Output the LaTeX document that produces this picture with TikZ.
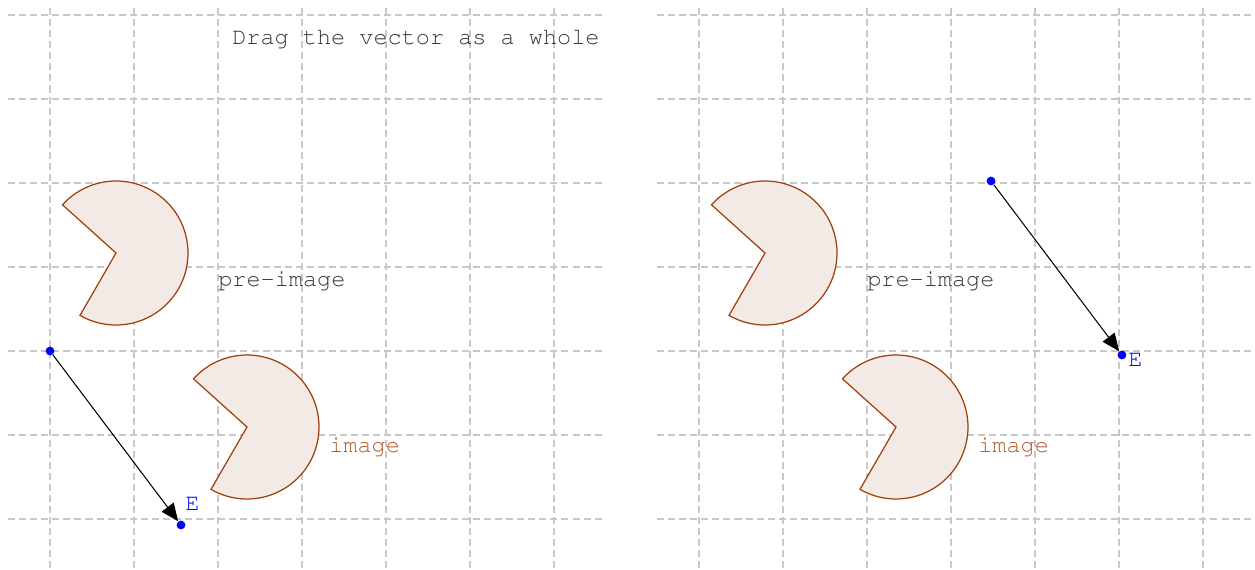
\documentclass[tikz,border=0pt]{standalone}
\usepackage[T1]{fontenc}
\usepackage{courier}
\usepackage{tikz}
\usetikzlibrary{arrows.meta, positioning}

\definecolor{PacLine}{RGB}{160,62,12}
\definecolor{PacFill}{RGB}{243,234,229}
\definecolor{PacText}{RGB}{178,84,42}
\definecolor{GridGray}{RGB}{200,200,200}
\definecolor{TextGray}{RGB}{51,51,51}
\definecolor{PtBlue}{RGB}{0,0,255}

\tikzset{
    gridline/.style={GridGray, line width=0.6pt, dash pattern=on 4pt off 2.3pt},
    pacman/.style={draw=PacLine, fill=PacFill, line width=0.7pt},
    vecpoint/.style={circle, fill=PtBlue, inner sep=0pt, minimum size=5pt},
    vecline/.style={black, line width=0.6pt, -{Triangle[length=10pt, width=8.5pt]}},
    lbl/.style={font=\ttfamily\fontsize{13.4}{16}\selectfont, inner sep=0pt},
}

\begin{document}
\begin{tikzpicture}[x=0.02cm, y=-0.02cm]
    \useasboundingbox (0, 0) rectangle (1255, 569);

    % left panel
    \begin{scope}[shift={(0, 0)}]
        \foreach \y in {15, 99, ..., 519} \draw[gridline] (8, \y) -- (605, \y);
        \foreach \x in {50, 134, ..., 554} \draw[gridline] (\x, 8) -- (\x, 569);

        \coordinate (pre) at (116, 253);
        \draw[pacman] (pre) -- ++(222:72) arc[start angle=222, end angle=480, radius=72] -- cycle;
        \coordinate (img) at (247, 427);
        \draw[pacman] (img) -- ++(222:72) arc[start angle=222, end angle=480, radius=72] -- cycle;

        \node (title) at (232, 44)[lbl, TextGray, anchor=base west] {Drag the vector as a whole};
        \node (prelbl) at (218, 286)[lbl, TextGray, anchor=base west] {pre-image};
        \node (imglbl) at (329, 452)[lbl, PacText, anchor=base west] {image};

        \node (tail) at (50, 351)[vecpoint] {};
        \node (E) at (181, 525)[vecpoint] {};
        \node (Elbl) at (E.center)[lbl, PtBlue, anchor=base west, xshift=2.3pt, yshift=8pt] {E};

        \draw[vecline] (tail) -- (E);
    \end{scope}

    % right panel
    \begin{scope}[shift={(649, 0)}]
        \foreach \y in {15, 99, ..., 519} \draw[gridline] (8, \y) -- (605, \y);
        \foreach \x in {50, 134, ..., 554} \draw[gridline] (\x, 8) -- (\x, 569);

        \coordinate (pre) at (116, 253);
        \draw[pacman] (pre) -- ++(222:72) arc[start angle=222, end angle=480, radius=72] -- cycle;
        \coordinate (img) at (247, 427);
        \draw[pacman] (img) -- ++(222:72) arc[start angle=222, end angle=480, radius=72] -- cycle;

        \node (prelbl) at (218, 286)[lbl, TextGray, anchor=base west] {pre-image};
        \node (imglbl) at (329, 452)[lbl, PacText, anchor=base west] {image};

        \node (tail) at (342, 181)[vecpoint] {};
        \node (E) at (473, 355)[vecpoint] {};
        \node (Elbl) at (E.center)[lbl, PtBlue, anchor=base west, xshift=3.4pt, yshift=-6.8pt] {E};

        \draw[vecline] (tail) -- (E);
    \end{scope}
\end{tikzpicture}
\end{document}
